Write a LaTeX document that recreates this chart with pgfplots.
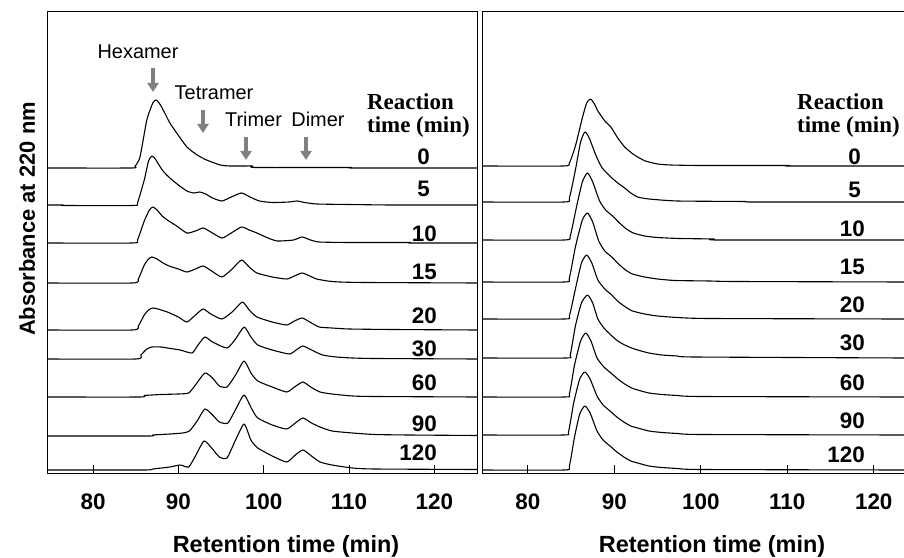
\documentclass[border=0pt]{standalone}
\usepackage{pgfplots}
\pgfplotsset{compat=1.18}
\usepackage{fontspec}
\setmainfont{Liberation Sans}
\newfontfamily\tnr{Liberation Serif}
\usetikzlibrary{arrows.meta}
\definecolor{arrgray}{RGB}{128,128,128}
\pgfplotsset{
 chrom/.style={scale only axis, anchor=south west, height=462bp, ymin=0, ymax=462,
   ytick=\empty, xtick={80,90,...,120}, xtick pos=bottom, tick align=inside,
   major tick length=9bp, every tick/.style={black, line width=1bp},
   axis line style={line width=1bp},
   /pgf/number format/assume math mode=true,
   xticklabel style={font=\bfseries\fontsize{22.5}{22.5}\selectfont, anchor=base, yshift=-36bp}},
 tr/.style={black, line width=1.1bp, no markers, line join=round, smooth, tension=0.35},
}
\begin{document}
\begin{tikzpicture}
\useasboundingbox (0bp,0bp) rectangle (904bp,558bp);
% ---------------- left panel ----------------
\begin{axis}[chrom, at={(47bp,84bp)}, width=430bp, xmin=74.6, xmax=125]
% 0 min
\addplot[tr] table[y expr=\thisrow{h}+306]{
x h
74.6 0
84.5 0
84.9 1.5
85.5 11
86.3 48
87.0 65
87.4 68
87.9 63
88.4 55
89.0 45
89.8 35
91.0 21
92.2 13
93.3 8
94.9 3
96.0 2
98.7 2
99.0 0.5
110 0.5
110.5 0
125 0
};
% 5 min
\addplot[tr] table[y expr=\thisrow{h}+269]{
x h
74.6 0
76.5 0
76.6 -0.5
84.7 -0.5
85.2 2
86.0 25
86.5 44
86.9 49
87.3 46
87.8 39
88.3 33
89.0 27
90.0 20
91.0 14
91.8 12
92.5 13
93.2 11
94.0 7
95.1 4
96.2 8
97.4 12
98.4 8
99.5 4
101.0 2.5
103.0 3
103.9 4
104.8 2.5
106.2 1
110 0.5
115 0
125 0
};
% 10 min
\addplot[tr] table[y expr=\thisrow{h}+231]{
x h
74.6 0
84.6 0
85.2 3
86.0 22
86.6 33
87.0 36
87.5 33
88.1 27
88.7 23
89.8 17
91.0 10
92.0 12
92.9 15
93.8 11
95.1 5
96.2 10
97.4 16
98.3 13
99.2 10
100.5 5
101.6 2
103.5 3
104.5 6
105.5 3
106.5 1
110 0.5
117 0.5
117.2 0
125 0
};
% 15 min
\addplot[tr] table[y expr=\thisrow{h}+191]{
x h
74.6 0
84.6 0
85.3 4
86.0 18
86.5 24
86.9 26
87.5 24
88.2 20
88.9 17
90.0 14
91.0 11
92.0 14
92.9 17
93.9 12
95.1 6
96.3 14
97.4 23
98.3 16
99.2 10
101.0 6
102.7 4
103.6 7
104.5 10
105.4 7
106.2 4
107.5 2
108.9 1
112 0.5
125 0
};
% 20 min
\addplot[tr] table[y expr=\thisrow{h}+144]{
x h
74.6 0
84.6 0
85.3 4
86.0 15
86.5 20
87.0 22
87.6 21
88.7 18
90.0 13
91.0 8
92.0 15
92.9 21
93.8 16
95.1 11
96.3 18
97.5 28
98.3 20
99.2 13
101.0 8
102.7 5
103.6 9
104.5 12
105.4 8
106.5 3
108.0 2
110.0 1
115 0.5
125 0
};
% 30 min
\addplot[tr] table[y expr=\thisrow{h}+115]{
x h
74.6 0
85.0 0
85.6 4
86.3 10
86.9 12
88.0 12
88.7 11
90.2 9
91.6 6
92.3 14
93.1 22
94.0 17
95.7 11
96.7 20
97.7 32
98.5 22
99.3 14
101.0 9
103.0 5
103.8 9
104.6 13
105.6 9
106.9 4
108.5 2
110.4 1
113 0.5
125 0
};
% 60 min
\addplot[tr] table[y expr=\thisrow{h}+77]{
x h
74.6 0
85.5 0
86.0 1.5
88.0 2.5
90.0 3
91.2 4
92.0 12
93.1 24
94.0 19
94.8 11
95.7 10
96.7 22
97.7 36
98.5 24
99.3 16
101.0 10
102.7 5
103.6 10
104.6 15
105.5 10
106.6 5
108.0 3
110.4 1
113 0.5
125 0
};
% 90 min
\addplot[tr] table[y expr=\thisrow{h}+38]{
x h
74.6 0
86.5 0
87.0 1
89.0 2
90.5 3
91.3 5
92.2 15
93.1 27
94.0 21
94.8 14
95.8 13
96.8 28
97.7 41
98.6 27
99.3 18
101.0 11
102.7 7
103.7 13
104.6 18
105.6 13
106.6 9
108.0 5
110.4 3
113 1.5
117 1
125 0.5
};
% 120 min
\addplot[tr] table[y expr=\thisrow{h}+4]{
x h
74.6 0
86.0 0
87.0 1
89.0 3
90.2 5
91.2 3
92.0 14
93.0 29
93.9 22
94.8 13
95.7 12
96.7 30
97.7 46
98.5 30
99.3 22
101.0 14
102.7 8
103.7 15
104.6 20
105.6 14
106.6 8
108.0 5
110.4 2
113 1
125 0.5
};
\end{axis}
% ---------------- right panel ----------------
\begin{axis}[chrom, at={(482bp,84bp)}, width=422bp, xmin=74.7, xmax=123.5]
% 0 min
\addplot[tr] table[y expr=\thisrow{h}+308]{
x h
74.7 0
84.1 0
84.8 3
85.5 20
86.3 48
86.8 63
87.25 67
87.7 62
88.1 55
88.9 45
89.6 39
90.4 28
91.2 19
92.0 13
92.7 9
93.6 5
95.0 2
96.5 1
100 0.5
110 0.5
110.2 0
123.5 0
};
% 5 min
\addplot[tr] table[y expr=\thisrow{h}+272]{
x h
74.7 0
84.2 0
84.8 4
85.5 32
86.1 60
86.6 70
87.1 64
87.9 46
88.6 34
89.6 25
90.4 19
91.2 14
91.9 9
92.7 5
94.0 3
97.3 1
105 0.5
106 0
123.5 0
};
% 10 min
\addplot[tr] table[y expr=\thisrow{h}+234]{
x h
74.7 0
84.2 0
84.9 4
85.6 32
86.3 58
86.9 67
87.5 58
88.3 39
89.0 30
89.8 24
90.6 17
91.4 11
92.2 7
93.5 4
95.0 2.5
97.5 1.5
101.5 1
102 0
123.5 0
};
% 15 min
\addplot[tr] table[y expr=\thisrow{h}+192]{
x h
74.7 0
84.2 0
84.8 4
85.5 35
86.3 62
86.9 69
87.5 60
88.2 41
88.9 31
89.7 25
90.5 18
91.3 12
92.1 8
93.5 5
95.0 3
97.0 1.5
101 1
104 0.5
123.5 0
};
% 20 min
\addplot[tr] table[y expr=\thisrow{h}+155]{
x h
74.7 0
84.2 0
84.8 3
85.5 30
86.2 56
86.8 64
87.4 56
88.1 39
88.9 30
89.7 24
90.5 17
91.3 12
92.1 8
93.5 5
95.0 3
97.3 1.5
101 0.5
123.5 0
};
% 30 min
\addplot[tr] table[y expr=\thisrow{h}+116]{
x h
74.7 0
84.4 0
84.9 3
85.5 32
86.2 55
86.9 63
87.5 55
88.1 39
88.8 30
89.6 23
90.4 17
91.2 13
92.0 10
92.7 8
94.0 5
95.5 3
97.3 2
99.3 1
123.5 0
};
% 60 min
\addplot[tr] table[y expr=\thisrow{h}+77]{
x h
74.7 0
84.2 0
84.8 3
85.4 32
86.1 56
86.7 64
87.3 56
88.0 39
88.8 30
89.6 24
90.4 18
91.2 13
92.0 9
92.7 7
94.0 4
95.5 2.5
97.3 1.5
100 0.5
123.5 0
};
% 90 min
\addplot[tr] table[y expr=\thisrow{h}+39]{
x h
74.7 0
84.1 0
84.7 3
85.3 32
86.0 56
86.6 63
87.2 56
88.0 39
88.7 30
89.5 24
90.3 18
91.1 13
91.9 9
92.7 7
94.0 4
95.5 2.5
97.3 1.5
100 0.5
123.5 0
};
% 120 min
\addplot[tr] table[y expr=\thisrow{h}+4]{
x h
74.7 0
84.2 0
84.8 4
85.4 33
86.0 56
86.6 64
87.2 57
88.0 39
88.7 30
89.5 24
90.3 18
91.1 13
91.9 9
92.7 7
94.0 4
95.5 2.5
97.3 1.5
100 0.5
123.5 0
};
\end{axis}
% ---------------- annotations ----------------
\begin{scope}[every node/.style={inner sep=0pt}]
\node[anchor=base, font=\fontsize{20}{20}\selectfont] at (138bp,499bp) {Hexamer};
\node[anchor=base, font=\fontsize{20}{20}\selectfont] at (214bp,458bp) {Tetramer};
\node[anchor=base, font=\fontsize{20}{20}\selectfont] at (253.5bp,431bp) {Trimer};
\node[anchor=base, font=\fontsize{20}{20}\selectfont] at (318bp,431bp) {Dimer};
\draw[arrgray, line width=4bp, -{Triangle[width=11bp,length=9bp]}] (153bp,490bp) -- (153bp,466bp);
\draw[arrgray, line width=4bp, -{Triangle[width=11bp,length=9bp]}] (203bp,448bp) -- (203bp,425bp);
\draw[arrgray, line width=4bp, -{Triangle[width=11bp,length=9bp]}] (246bp,421bp) -- (246bp,398bp);
\draw[arrgray, line width=4bp, -{Triangle[width=11bp,length=9bp]}] (306bp,421bp) -- (306bp,398bp);
% reaction time headers
\node[anchor=base west, font=\tnr\bfseries\fontsize{23}{23}\selectfont] at (367bp,448bp) {Reaction};
\node[anchor=base west, font=\tnr\bfseries\fontsize{23}{23}\selectfont] at (367bp,425bp) {time (min)};
\node[anchor=base west, font=\tnr\bfseries\fontsize{23}{23}\selectfont] at (797bp,448bp) {Reaction};
\node[anchor=base west, font=\tnr\bfseries\fontsize{23}{23}\selectfont] at (797bp,425bp) {time (min)};
% left numbers
\begin{scope}[every node/.style={inner sep=0pt, anchor=base east, font=\bfseries\fontsize{22.5}{22.5}\selectfont}]
\node at (430bp,393bp) {0};
\node at (430bp,361bp) {5};
\node at (437bp,316bp) {10};
\node at (437bp,278.5bp) {15};
\node at (437bp,234.5bp) {20};
\node at (437bp,201.5bp) {30};
\node at (437bp,167.5bp) {60};
\node at (437bp,126bp) {90};
\node at (437bp,97bp) {120};
% right numbers
\node at (861bp,393bp) {0};
\node at (861bp,360.5bp) {5};
\node at (865bp,321bp) {10};
\node at (865bp,283bp) {15};
\node at (865bp,245.5bp) {20};
\node at (865bp,207bp) {30};
\node at (865bp,167.5bp) {60};
\node at (865bp,129.5bp) {90};
\node at (865bp,95.5bp) {120};
\end{scope}
% axis labels
\node[anchor=base, font=\bfseries\fontsize{23.5}{23.5}\selectfont] at (286bp,6bp) {Retention time (min)};
\node[anchor=base, font=\bfseries\fontsize{23.5}{23.5}\selectfont] at (712bp,6bp) {Retention time (min)};
\node[rotate=90, font=\bfseries\fontsize{22}{22}\selectfont] at (27bp,339bp) {Absorbance at 220 nm};
\end{scope}
\end{tikzpicture}
\end{document}
